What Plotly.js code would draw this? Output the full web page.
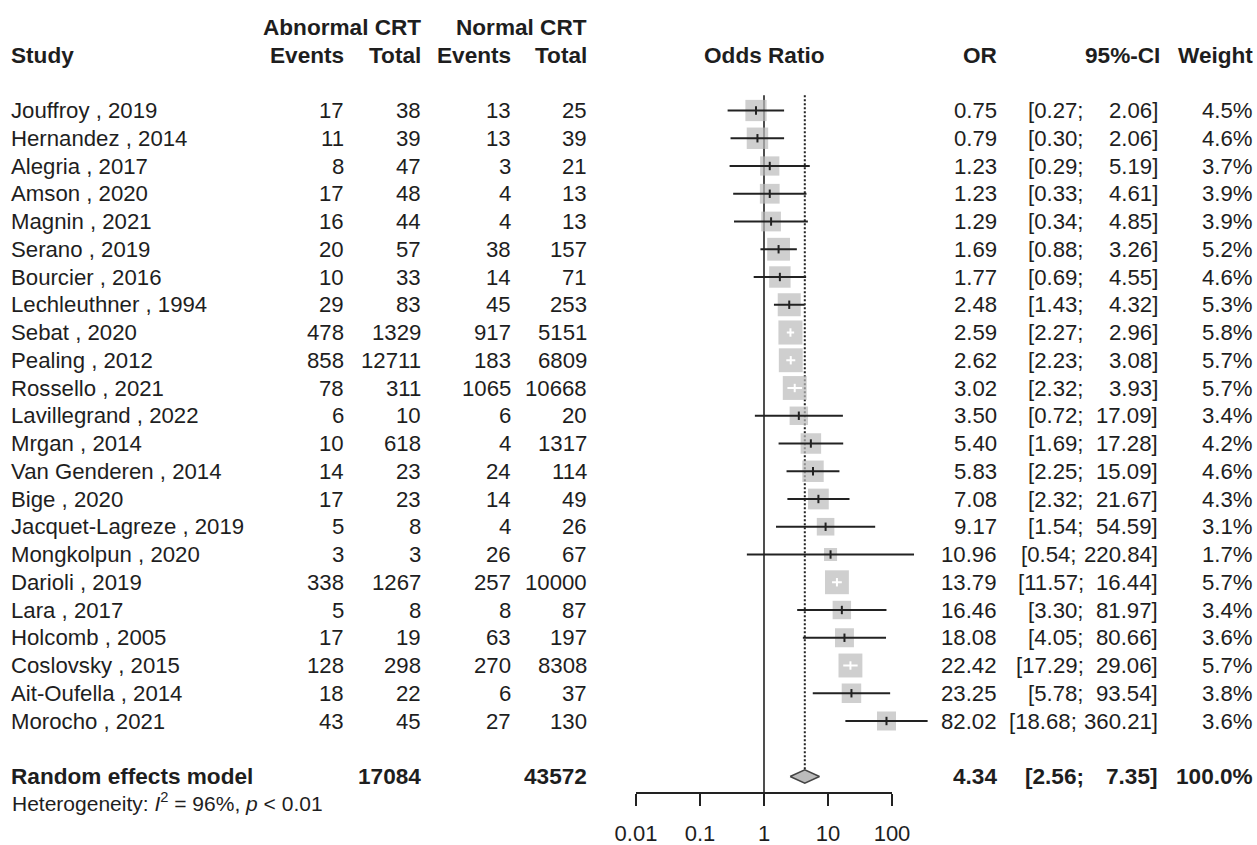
<!DOCTYPE html>
<html>
<head>
<meta charset="utf-8">
<script src="https://cdn.plot.ly/plotly-3.0.1.min.js"></script>
<style>
html,body{margin:0;padding:0;background:#ffffff;}
#chart{width:1257px;height:845px;}
</style>
</head>
<body>
<div id="chart"></div>
<script>
// ---------------- data ----------------
const studies = ["Jouffroy , 2019","Hernandez , 2014","Alegria , 2017","Amson , 2020","Magnin , 2021",
  "Serano , 2019","Bourcier , 2016","Lechleuthner , 1994","Sebat , 2020","Pealing , 2012",
  "Rossello , 2021","Lavillegrand , 2022","Mrgan , 2014","Van Genderen , 2014","Bige , 2020",
  "Jacquet-Lagreze , 2019","Mongkolpun , 2020","Darioli , 2019","Lara , 2017","Holcomb , 2005",
  "Coslovsky , 2015","Ait-Oufella , 2014","Morocho , 2021"];
const eventsAbn = [17,11,8,17,16,20,10,29,478,858,78,6,10,14,17,5,3,338,5,17,128,18,43];
const totalAbn  = [38,39,47,48,44,57,33,83,1329,12711,311,10,618,23,23,8,3,1267,8,19,298,22,45];
const eventsNor = [13,13,3,4,4,38,14,45,917,183,1065,6,4,24,14,4,26,257,8,63,270,6,27];
const totalNor  = [25,39,21,13,13,157,71,253,5151,6809,10668,20,1317,114,49,26,67,10000,87,197,8308,37,130];
const oddsRatio = [0.75,0.79,1.23,1.23,1.29,1.69,1.77,2.48,2.59,2.62,3.02,3.50,5.40,5.83,7.08,9.17,10.96,13.79,16.46,18.08,22.42,23.25,82.02];
const ciLower   = [0.27,0.30,0.29,0.33,0.34,0.88,0.69,1.43,2.27,2.23,2.32,0.72,1.69,2.25,2.32,1.54,0.54,11.57,3.30,4.05,17.29,5.78,18.68];
const ciUpper   = [2.06,2.06,5.19,4.61,4.85,3.26,4.55,4.32,2.96,3.08,3.93,17.09,17.28,15.09,21.67,54.59,220.84,16.44,81.97,80.66,29.06,93.54,360.21];
const weightPct = [4.5,4.6,3.7,3.9,3.9,5.2,4.6,5.3,5.8,5.7,5.7,3.4,4.2,4.6,4.3,3.1,1.7,5.7,3.4,3.6,5.7,3.8,3.6];

const reLabel = "Random effects model";
const reTotalAbn = 17084;
const reTotalNor = 43572;
const reOR = 4.34, reLower = 2.56, reUpper = 7.35, reWeight = 100.0;
const hetText = "Heterogeneity: <i>I</i><sup>2</sup> = 96%, <i>p</i> &lt; 0.01";

const tickVals = [0.01, 0.1, 1, 10, 100];
const tickText = ["0.01", "0.1", "1", "10", "100"];

// ---------------- layout constants ----------------
const W = 1257, H = 845;
const ROW0 = 110.5, ROWH = 27.75;     // pixel centre of first row, row pitch
const X1PX = 764, DEC = 64;           // pixel of OR=1, pixels per decade
const AXIS_Y = 792;                   // pixel of axis line
const FONT = "Liberation Sans, Arial, Helvetica, sans-serif";
const TXT = "#1e1e1e";
const BOX = "#bbbbbb";
const LINE = "#222222";
const reRow = studies.length + 1;
const pxRow = p => (p - ROW0) / ROWH;

// ---------------- traces ----------------
const rows = studies.map((_, i) => i);
const boxSide = weightPct.map(w => 10 * Math.sqrt(w));
const inside = rows.map(i => (Math.log10(ciUpper[i]) - Math.log10(ciLower[i])) * DEC < boxSide[i]);

function segs(filter) {
  const xs = [], ys = [];
  rows.forEach(i => { if (filter(i)) { xs.push(ciLower[i], ciUpper[i], null); ys.push(i, i, null); } });
  return {xs, ys};
}
const blk = segs(i => !inside[i]);
const wht = segs(i => inside[i]);

const traces = [
  // reference line at OR = 1
  {x: [1, 1], y: [-0.55, pxRow(AXIS_Y)], xaxis: 'x', yaxis: 'y', mode: 'lines',
   line: {color: LINE, width: 1.6}, hoverinfo: 'skip', showlegend: false},
  // random effects estimate (dotted)
  {x: [reOR, reOR], y: [-0.55, reRow - 0.26], xaxis: 'x', yaxis: 'y', mode: 'lines',
   line: {color: LINE, width: 2, dash: '2px,2px'}, hoverinfo: 'skip', showlegend: false},
  // weight boxes
  {x: oddsRatio, y: rows, xaxis: 'x', yaxis: 'y', mode: 'markers',
   marker: {symbol: 'square', size: boxSide, color: BOX, line: {width: 0}},
   hoverinfo: 'skip', showlegend: false},
  // CI lines (black)
  {x: blk.xs, y: blk.ys, xaxis: 'x', yaxis: 'y', mode: 'lines',
   line: {color: LINE, width: 2}, hoverinfo: 'skip', showlegend: false},
  // CI lines (white, inside box)
  {x: wht.xs, y: wht.ys, xaxis: 'x', yaxis: 'y', mode: 'lines',
   line: {color: '#ffffff', width: 2}, hoverinfo: 'skip', showlegend: false},
  // estimate ticks
  {x: rows.filter(i => !inside[i]).map(i => oddsRatio[i]), y: rows.filter(i => !inside[i]),
   xaxis: 'x', yaxis: 'y', mode: 'markers',
   marker: {symbol: 'line-ns', size: 6, line: {width: 2, color: LINE}},
   hoverinfo: 'skip', showlegend: false},
  {x: rows.filter(i => inside[i]).map(i => oddsRatio[i]), y: rows.filter(i => inside[i]),
   xaxis: 'x', yaxis: 'y', mode: 'markers',
   marker: {symbol: 'line-ns', size: 6, line: {width: 2, color: '#ffffff'}},
   hoverinfo: 'skip', showlegend: false},
  // summary diamond
  {x: [reLower, reOR, reUpper, reOR, reLower], y: [reRow, reRow - 0.24, reRow, reRow + 0.24, reRow],
   xaxis: 'x2', yaxis: 'y', mode: 'lines', fill: 'toself', fillcolor: BOX,
   line: {color: '#444444', width: 1.5}, hoverinfo: 'skip', showlegend: false}
];

// ---------------- text ----------------
const ann = [];
function txt(px, row, text, anchor, opt) {
  opt = opt || {};
  ann.push({xref: 'paper', yref: 'y', x: px / W, y: row,
    text: opt.bold ? '<b>' + text + '</b>' : text,
    xanchor: anchor, yanchor: 'middle', showarrow: false,
    borderpad: 0, borderwidth: 0,
    font: {family: FONT, size: opt.size || (opt.bold ? 22.6 : 22.2), color: TXT}});
}
const COL = {study: 11, evA: 344, totA: 421, evN: 511, totN: 587, orc: 997, ciL: 1084, ciU: 1158, w: 1253};
// wide (3-digit) upper limits push the lower part left, as in the padded original strings
const ciLowerPos = up => COL.ciL - (up >= 100 ? 7 : 0);

// headers
txt(COL.totA, -3, "Abnormal CRT", 'right', {bold: true});
txt(COL.totN, -3, "Normal CRT", 'right', {bold: true});
txt(COL.study, -2, "Study", 'left', {bold: true});
txt(COL.evA, -2, "Events", 'right', {bold: true});
txt(COL.totA, -2, "Total", 'right', {bold: true});
txt(COL.evN, -2, "Events", 'right', {bold: true});
txt(COL.totN, -2, "Total", 'right', {bold: true});
txt(X1PX, -2, "Odds Ratio", 'center', {bold: true});
txt(COL.orc, -2, "OR", 'right', {bold: true});
txt(1160, -2, "95%-CI", 'right', {bold: true});
txt(COL.w, -2, "Weight", 'right', {bold: true});

// study rows
rows.forEach(i => {
  txt(COL.study, i, studies[i], 'left');
  txt(COL.evA, i, String(eventsAbn[i]), 'right');
  txt(COL.totA, i, String(totalAbn[i]), 'right');
  txt(COL.evN, i, String(eventsNor[i]), 'right');
  txt(COL.totN, i, String(totalNor[i]), 'right');
  txt(COL.orc, i, oddsRatio[i].toFixed(2), 'right');
  txt(ciLowerPos(ciUpper[i]), i, '[' + ciLower[i].toFixed(2) + ';', 'right');
  txt(COL.ciU, i, ciUpper[i].toFixed(2) + ']', 'right');
  txt(COL.w, i, weightPct[i].toFixed(1) + '%', 'right');
});

// summary row
txt(COL.study, reRow, reLabel, 'left', {bold: true});
txt(COL.totA, reRow, String(reTotalAbn), 'right', {bold: true});
txt(COL.totN, reRow, String(reTotalNor), 'right', {bold: true});
txt(COL.orc, reRow, reOR.toFixed(2), 'right', {bold: true});
txt(ciLowerPos(reUpper), reRow, '[' + reLower.toFixed(2) + ';', 'right', {bold: true});
txt(COL.ciU, reRow, reUpper.toFixed(2) + ']', 'right', {bold: true});
txt(COL.w, reRow, reWeight.toFixed(1) + '%', 'right', {bold: true});
txt(12, pxRow(801.5), hetText, 'left', {size: 21});

// ---------------- layout ----------------
const layout = {
  width: W, height: H,
  margin: {l: 0, r: 0, t: 0, b: 0, pad: 0},
  paper_bgcolor: '#ffffff', plot_bgcolor: 'rgba(0,0,0,0)',
  showlegend: false,
  xaxis: {type: 'log', domain: [0, 1], range: [(0 - X1PX) / DEC, (W - X1PX) / DEC],
          visible: false, fixedrange: true},
  xaxis2: {type: 'log', domain: [(X1PX - 2 * DEC) / W, (X1PX + 2 * DEC) / W], range: [-2, 2],
           anchor: 'free', position: 1 - AXIS_Y / H,
           showline: true, linecolor: LINE, linewidth: 1.5,
           ticks: 'outside', ticklen: 12, tickwidth: 1.5, tickcolor: LINE,
           tickmode: 'array', tickvals: tickVals, ticktext: tickText,
           ticklabelstandoff: 9,
           tickfont: {family: FONT, size: 22, color: TXT},
           showgrid: false, zeroline: false, fixedrange: true},
  yaxis: {domain: [0, 1], range: [(H - ROW0) / ROWH, -ROW0 / ROWH], visible: false, fixedrange: true},
  annotations: ann
};

Plotly.newPlot('chart', traces, layout, {staticPlot: true, displayModeBar: false});
</script>
</body>
</html>
